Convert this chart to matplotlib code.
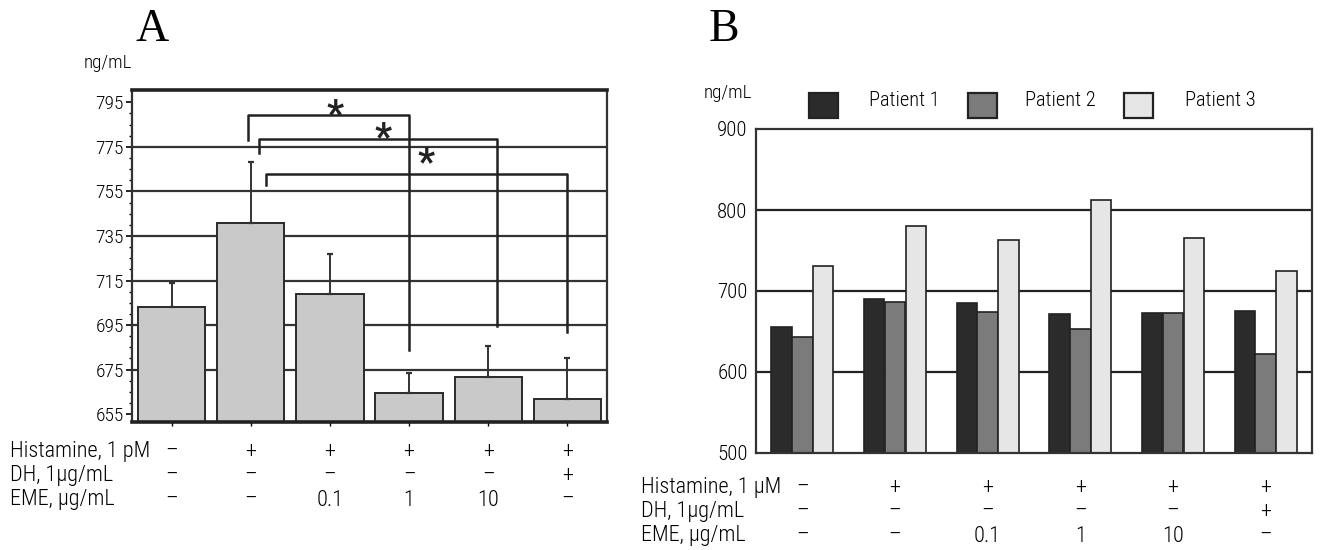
import numpy as np
import matplotlib
matplotlib.use("Agg")
import matplotlib.pyplot as plt
from matplotlib import font_manager
from matplotlib.patches import Rectangle
from matplotlib.transforms import blended_transform_factory

# data
conditions = ["Histamine, 1 pM", "DH, 1µg/mL", "EME, µg/mL"]
conditions_b = ["Histamine, 1 µM", "DH, 1µg/mL", "EME, µg/mL"]
histamine = ["–", "+", "+", "+", "+", "+"]
dh = ["–", "–", "–", "–", "–", "+"]
eme = ["–", "–", "0.1", "1", "10", "–"]

mean_a = [703, 740.7, 709, 664.7, 671.5, 661.8]
err_a = [10.8, 27.4, 17.8, 9.0, 13.9, 18.4]
a_ticks = [655, 675, 695, 715, 735, 755, 775, 795]
a_grid = [675, 695, 715, 735, 755, 775]

# significance brackets: (left x, left foot, height, right x, right foot, star x, star y)
brackets = [
    (0.96, 778.0, 789.3, 3.0, 684.0, 2.06, 793.8),
    (1.10, 772.3, 778.6, 4.11, 694.7, 2.67, 783.6),
    (1.19, 757.9, 762.9, 4.99, 692.1, 3.22, 772.3),
]

patients = ["Patient 1", "Patient 2", "Patient 3"]
patient1 = [655, 690, 685, 672, 673, 675.5]
patient2 = [643, 687, 674, 653, 673, 622.6]
patient3 = [731, 780, 763, 812, 765, 724.5]
b_ticks = [500, 600, 700, 800, 900]
b_grid = [600, 700, 800]

names = {f.name for f in font_manager.fontManager.ttflist}
sans_name = "DejaVu Sans"
for cand in ["Liberation Sans Narrow", "Roboto Condensed", "Liberation Sans"]:
    if cand in names:
        sans_name = cand
        break
sans = {"family": sans_name, "fontweight": "light"}
serif = "Liberation Serif" if "Liberation Serif" in names else "DejaVu Serif"

W, H = 1323, 550
fig = plt.figure(figsize=(W / 100, H / 100), dpi=100)


def fx(px):
    return px / W


def fy(py):
    return 1 - py / H


x = np.arange(6)

# ---------------- panel A ----------------
axA = fig.add_axes([fx(132), fy(422), fx(607 - 132), (422 - 90) / H])
axA.set_xlim(-0.5, 5.5)
axA.set_ylim(651.5, 800.5)
for g in a_grid:
    axA.axhline(g, color="#333333", lw=1.6, zorder=1)
axA.bar(x, np.array(mean_a) - 651.5, bottom=651.5, width=0.85, color="#c9c9c9",
        edgecolor="#2a2a2a", lw=1.4, zorder=2)
axA.errorbar(x, mean_a, yerr=[np.zeros(6), err_a], fmt="none", ecolor="#333333",
             elinewidth=1.4, capsize=2.5, capthick=1.6, zorder=3)
for lx, lf, h, rx, rf, sx, sy in brackets:
    axA.plot([lx, lx, rx, rx], [lf, h, h, rf], color="#222222", lw=1.8, zorder=4)
    axA.text(sx, sy - 9.5, "*", ha="center", va="baseline", fontsize=27, fontweight="bold",
             family=sans_name, color="#222222", zorder=5)
axA.set_yticks(a_ticks)
axA.set_yticks(np.arange(655, 800, 5), minor=True)
axA.set_yticklabels([str(t) for t in a_ticks], fontsize=14, **sans)
axA.set_xticks(x)
axA.set_xticklabels([])
axA.tick_params(axis="y", which="major", length=4, width=1.2, pad=2)
axA.tick_params(axis="y", which="minor", length=2.5, width=1)
axA.tick_params(axis="x", length=3, width=1)
for s in ["top", "bottom"]:
    axA.spines[s].set_linewidth(2.6)
    axA.spines[s].set_color("#222222")
for s in ["left", "right"]:
    axA.spines[s].set_linewidth(1.6)
    axA.spines[s].set_color("#333333")

fig.text(fx(152), fy(30), "A", family=serif, fontsize=33, ha="center", va="center")
fig.text(fx(132), fy(63), "ng/mL", fontsize=13.7, ha="right", va="center", **sans)

trA = blended_transform_factory(axA.transData, fig.transFigure)
for row, (lab, vals) in enumerate(zip(conditions, [histamine, dh, eme])):
    yy = fy(452 + 24 * row)
    fig.text(fx(10), yy, lab, fontsize=16, ha="left", va="center", **sans)
    for i, v in enumerate(vals):
        axA.text(i, yy, v, transform=trA, fontsize=16, ha="center", va="center", **sans)

# ---------------- panel B ----------------
axB = fig.add_axes([fx(756), fy(453), fx(1312 - 756), (453 - 129) / H])
axB.set_xlim(-0.5, 5.5)
axB.set_ylim(500, 900)
for g in b_grid:
    axB.axhline(g, color="#222222", lw=1.6, zorder=1)
colors = ["#2b2b2b", "#7b7b7b", "#e6e6e6"]
for k, vals in enumerate([patient1, patient2, patient3]):
    axB.bar(x + (k - 1) * 0.225, np.array(vals) - 500, bottom=500, width=0.22,
            color=colors[k], edgecolor="#222222", lw=1.2, zorder=2)
axB.set_yticks(b_ticks)
axB.set_yticklabels([str(t) for t in b_ticks], fontsize=15, **sans)
axB.set_xticks([])
axB.tick_params(axis="y", length=0, pad=6)
for s in axB.spines.values():
    s.set_linewidth(1.6)
    s.set_color("#333333")

fig.text(fx(724), fy(30), "B", family=serif, fontsize=33, ha="center", va="center")
fig.text(fx(752), fy(93), "ng/mL", fontsize=13.7, ha="right", va="center", **sans)

sq_x = [809, 968, 1124]
txt_x = [869, 1025, 1185]
for k in range(3):
    fig.patches.append(Rectangle((fx(sq_x[k]), fy(118)), fx(29), 25 / H,
                                 transform=fig.transFigure, facecolor=colors[k],
                                 edgecolor="#222222", lw=1.6))
    fig.text(fx(txt_x[k]), fy(100), patients[k], fontsize=14.8, ha="left", va="center", **sans)

trB = blended_transform_factory(axB.transData, fig.transFigure)
for row, (lab, vals) in enumerate(zip(conditions_b, [histamine, dh, eme])):
    yy = fy(488 + 24 * row)
    fig.text(fx(641), yy, lab, fontsize=16, ha="left", va="center", **sans)
    for i, v in enumerate(vals):
        axB.text(i, yy, v, transform=trB, fontsize=16, ha="center", va="center", **sans)

fig.savefig("out.png", dpi=100)
